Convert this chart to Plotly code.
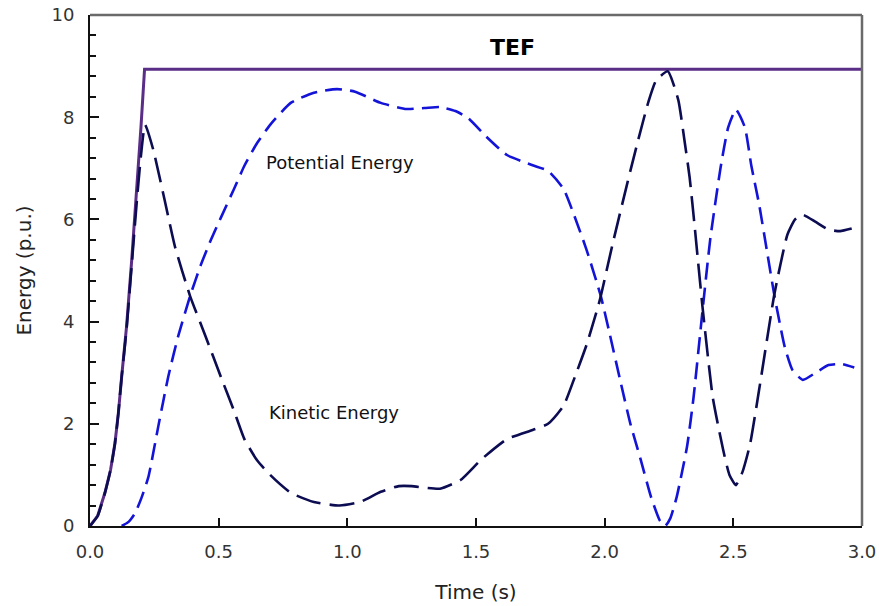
import plotly.graph_objects as go

# Transient energy function (TEF) during and after the fault
tef_t = [0.0, 0.03, 0.058, 0.08, 0.097, 0.11, 0.123, 0.142, 0.162, 0.181, 0.198, 0.212, 3.0]
tef_e = [0.0, 0.2, 0.65, 1.1, 1.62, 2.2, 2.92, 3.9, 5.2, 6.5, 7.8, 8.94, 8.94]

# Kinetic energy
ke_t = [0.0, 0.03, 0.058, 0.08, 0.097, 0.11, 0.123, 0.142, 0.162, 0.181, 0.198, 0.214,
        0.246, 0.29, 0.33, 0.389, 0.45, 0.51, 0.56, 0.60, 0.65, 0.70, 0.78, 0.87,
        0.97, 1.05, 1.13, 1.20, 1.25, 1.30, 1.36, 1.44, 1.52, 1.62, 1.72, 1.78,
        1.84, 1.88, 1.93, 1.98, 2.03, 2.09, 2.13, 2.17, 2.20, 2.245, 2.286, 2.31,
        2.33, 2.35, 2.38, 2.42, 2.46, 2.485, 2.51, 2.535, 2.565, 2.60, 2.66, 2.71,
        2.74, 2.77, 2.82, 2.87, 2.915, 2.96]
ke_e = [0.0, 0.2, 0.65, 1.1, 1.62, 2.2, 2.92, 3.85, 5.1, 6.3, 7.25, 7.85,
        7.36, 6.38, 5.47, 4.5, 3.7, 2.9, 2.25, 1.7, 1.28, 1.0, 0.65, 0.47,
        0.40, 0.47, 0.67, 0.78, 0.78, 0.75, 0.73, 0.9, 1.3, 1.7, 1.88, 2.0,
        2.35, 2.86, 3.55, 4.4, 5.5, 6.75, 7.55, 8.3, 8.72, 8.9, 8.34, 7.55,
        6.83, 5.85, 4.3, 2.52, 1.5, 1.0, 0.8, 1.05, 1.6, 2.66, 4.55, 5.7,
        6.0, 6.09, 5.95, 5.8, 5.77, 5.82]

# Potential energy
pe_t = [0.123, 0.15, 0.175, 0.20, 0.227, 0.265, 0.304, 0.343, 0.389, 0.43, 0.47, 0.51,
        0.56, 0.60, 0.65, 0.70, 0.78, 0.87, 0.96, 1.03, 1.13, 1.23, 1.30, 1.36,
        1.42, 1.47, 1.54, 1.62, 1.72, 1.78, 1.84, 1.88, 1.93, 1.985, 2.02, 2.06,
        2.10, 2.14, 2.18, 2.215, 2.235, 2.255, 2.28, 2.32, 2.345, 2.38, 2.41, 2.45,
        2.48, 2.51, 2.545, 2.57, 2.60, 2.63, 2.66, 2.70, 2.73, 2.77, 2.82, 2.87,
        2.92, 2.97]
pe_e = [0.0, 0.08, 0.25, 0.55, 0.96, 1.94, 2.92, 3.72, 4.5, 5.1, 5.6, 6.05,
        6.6, 7.05, 7.5, 7.85, 8.28, 8.48, 8.55, 8.5, 8.28, 8.16, 8.18, 8.2,
        8.12, 7.98, 7.62, 7.26, 7.06, 6.95, 6.6, 6.1, 5.4, 4.5, 3.75, 2.86,
        2.0, 1.3, 0.57, 0.1, 0.0, 0.15, 0.57, 1.55, 2.5, 4.2, 5.6, 7.0,
        7.8, 8.15, 7.8, 7.05, 6.3, 5.4, 4.5, 3.5, 3.05, 2.86, 3.0, 3.15,
        3.17, 3.1]

x_ticks = [0.0, 0.5, 1.0, 1.5, 2.0, 2.5, 3.0]
y_ticks = [0, 2, 4, 6, 8, 10]

FONT = "DejaVu Sans"

fig = go.Figure()

fig.add_trace(go.Scatter(
    x=tef_t, y=tef_e, mode="lines",
    line=dict(color="#5a2d86", width=3),
    name="TEF", showlegend=False,
))
fig.add_trace(go.Scatter(
    x=pe_t, y=pe_e, mode="lines",
    line=dict(color="#1414d8", width=2.6, dash="17px,8px", shape="spline", smoothing=0.5),
    name="Potential Energy", showlegend=False,
))
fig.add_trace(go.Scatter(
    x=ke_t, y=ke_e, mode="lines",
    line=dict(color="#0c0c52", width=2.6, dash="25px,9px", shape="spline", smoothing=0.5),
    name="Kinetic Energy", showlegend=False,
))

# Curve labels
fig.add_annotation(x=1.64, y=9.37, text="<b>TEF</b>", showarrow=False,
                   font=dict(family=FONT, size=22, color="#000000"))
fig.add_annotation(x=0.97, y=7.12, text="Potential Energy", showarrow=False,
                   font=dict(family=FONT, size=18, color="#111111"))
fig.add_annotation(x=0.95, y=2.23, text="Kinetic Energy", showarrow=False,
                   font=dict(family=FONT, size=18, color="#111111"))

# Grey top and right frame
fig.add_shape(type="line", xref="paper", yref="paper", x0=0, x1=1, y0=1, y1=1,
              line=dict(color="#6a6a6a", width=2.5))
fig.add_shape(type="line", xref="paper", yref="paper", x0=1, x1=1, y0=0, y1=1,
              line=dict(color="#6a6a6a", width=2.5))

fig.update_layout(
    width=879, height=606,
    margin=dict(l=90, r=17, t=15, b=80),
    paper_bgcolor="white", plot_bgcolor="white",
    font=dict(family=FONT, color="#222222"),
    xaxis=dict(
        range=[0, 3], tickvals=x_ticks, ticktext=[f"{v:.1f}" for v in x_ticks],
        ticks="inside", ticklen=8, tickwidth=2, tickcolor="#111111",
        showline=True, linecolor="#111111", linewidth=2,
        showgrid=False, zeroline=False, automargin=False,
        tickfont=dict(family=FONT, size=18, color="#333333"),
        ticklabelstandoff=8,
        title=dict(text="Time (s)", font=dict(family=FONT, size=20, color="#222222"), standoff=24),
    ),
    yaxis=dict(
        range=[0, 10], tickvals=y_ticks, ticktext=[str(v) for v in y_ticks],
        ticks="inside", ticklen=9, tickwidth=2, tickcolor="#111111",
        minor=dict(dtick=0.4, ticks="inside", ticklen=6, tickwidth=2, tickcolor="#111111", showgrid=False),
        showline=True, linecolor="#111111", linewidth=2,
        showgrid=False, zeroline=False, automargin=False,
        tickfont=dict(family=FONT, size=18, color="#333333"),
        ticklabelstandoff=10,
        title=dict(text="Energy (p.u.)", font=dict(family=FONT, size=20, color="#222222"), standoff=14),
    ),
)

fig.write_html("out.html")
